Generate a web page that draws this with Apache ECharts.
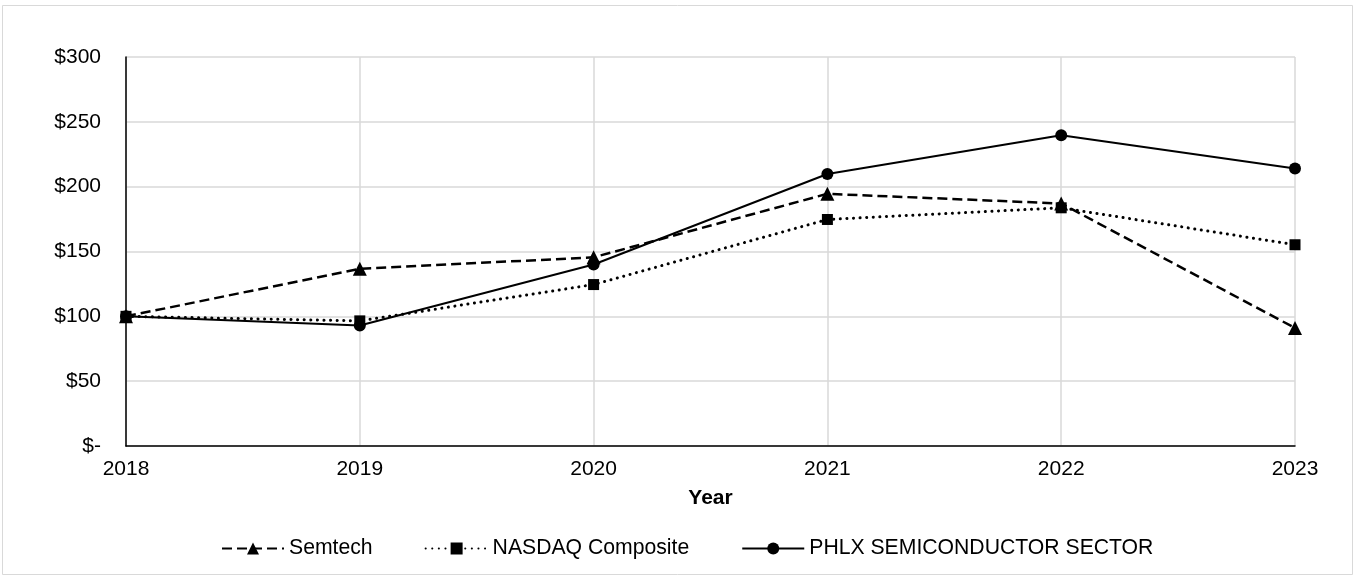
<!DOCTYPE html>
<html>
<head>
<meta charset="utf-8">
<script src="https://cdn.jsdelivr.net/npm/echarts@6/dist/echarts.min.js"></script>
<style>
html,body{margin:0;padding:0;background:#fff;}
#c{width:1355px;height:577px;}
</style>
</head>
<body>
<div id="c"></div>
<script>
const years = ['2018','2019','2020','2021','2022','2023'];
const semtech = [100, 136.7, 145.5, 194.5, 187, 91];
const nasdaq = [100, 96.5, 124.5, 174.7, 183.7, 155.2];
const phlx = [100, 93, 140, 209.8, 239.6, 214];
const yTicks = [0, 50, 100, 150, 200, 250, 300];
const seriesNames = ['Semtech', 'NASDAQ Composite', 'PHLX SEMICONDUCTOR SECTOR'];

const FONT = 'Liberation Sans, Arial, sans-serif';
const chart = echarts.init(document.getElementById('c'));
chart.setOption({
  animation: false,
  backgroundColor: '#fff',
  graphic: [{
    type: 'rect', shape: {x: 2.5, y: 5.5, width: 1350, height: 569},
    style: {fill: 'none', stroke: '#d9d9d9', lineWidth: 1}, silent: true, z: -1
  }],
  grid: {left: 126, right: 60, top: 57, bottom: 131},
  legend: {
    left: 216, top: 533,
    itemWidth: 62, itemHeight: 15, itemGap: 52,
    textStyle: {fontFamily: FONT, fontSize: 21.2, color: '#000'},
    data: seriesNames
  },
  xAxis: {
    type: 'category', data: years, boundaryGap: false,
    name: 'Year', nameLocation: 'middle', nameGap: 42,
    nameTextStyle: {fontFamily: FONT, fontSize: 21, fontWeight: 'bold', color: '#000'},
    axisLine: {lineStyle: {color: '#000', width: 1.5}},
    axisTick: {show: false},
    axisLabel: {fontFamily: FONT, fontSize: 21, color: '#000', margin: 13},
    splitLine: {show: true, lineStyle: {color: '#d9d9d9', width: 1.5}}
  },
  yAxis: {
    type: 'value', min: 0, max: 300, interval: 50,
    axisLine: {show: true, lineStyle: {color: '#000', width: 1.5}},
    axisTick: {show: false},
    axisLabel: {fontFamily: FONT, fontSize: 21, color: '#000', margin: 25,
      formatter: v => v === 0 ? '$-' : '$' + v},
    splitLine: {show: true, lineStyle: {color: '#d9d9d9', width: 1.5}}
  },
  series: [
    {name: seriesNames[0], type: 'line', data: semtech, symbol: 'triangle', symbolSize: 14,
     itemStyle: {color: '#000'}, lineStyle: {color: '#000', width: 2.5, type: [10, 5]}},
    {name: seriesNames[1], type: 'line', data: nasdaq, symbol: 'rect', symbolSize: 11,
     itemStyle: {color: '#000'}, lineStyle: {color: '#000', width: 3, type: [0.1, 6.5], cap: 'round'}},
    {name: seriesNames[2], type: 'line', data: phlx, symbol: 'circle', symbolSize: 12,
     itemStyle: {color: '#000'}, lineStyle: {color: '#000', width: 2}}
  ]
});
</script>
</body>
</html>
